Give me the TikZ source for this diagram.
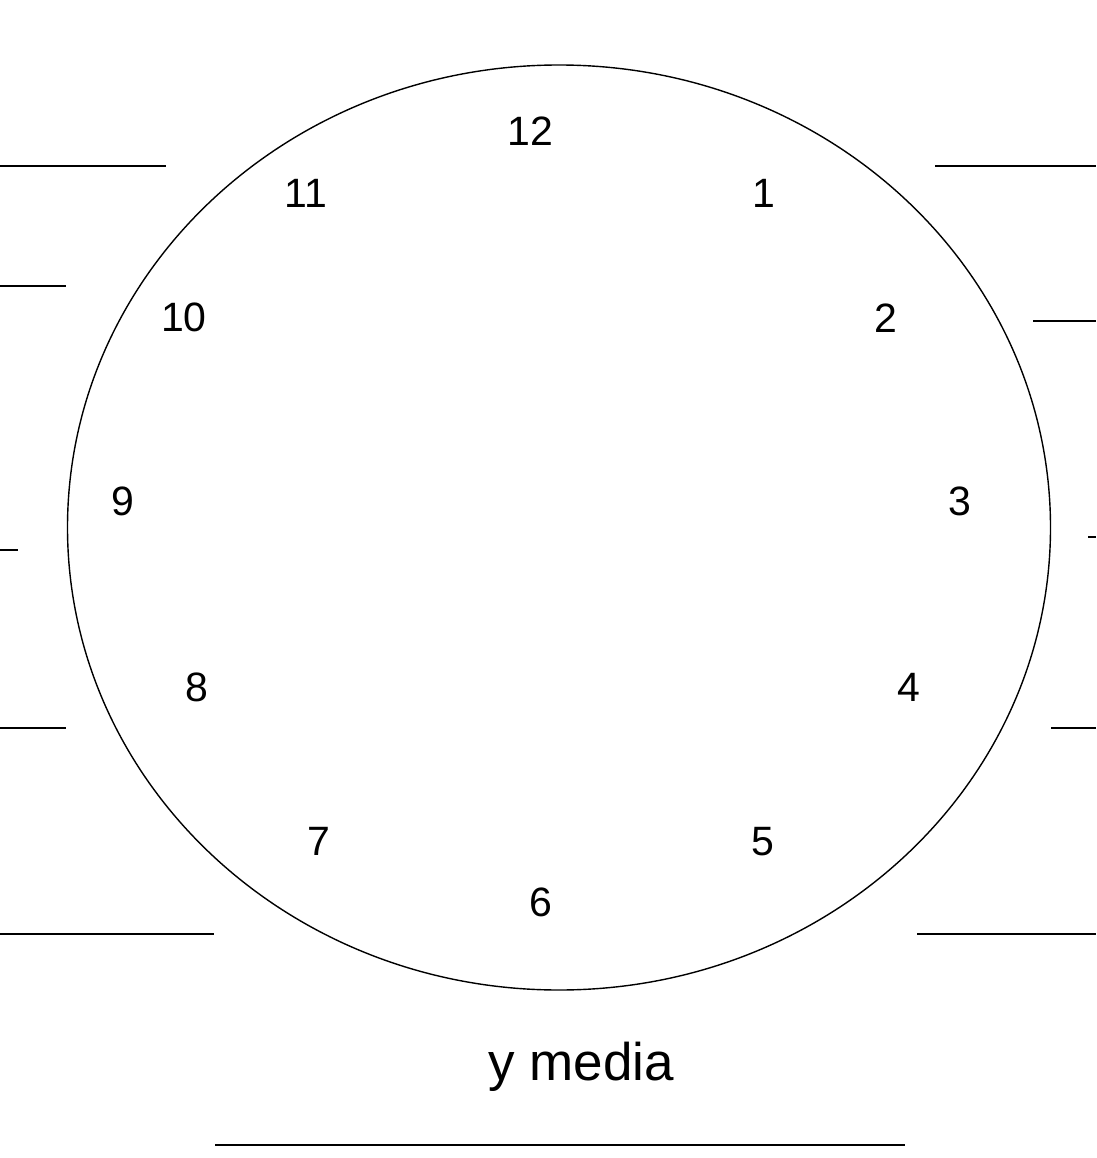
\documentclass[tikz,border=0pt]{standalone}
\usepackage{fontspec}
\setmainfont{Liberation Sans}
\begin{document}
\begin{tikzpicture}[x=1pt,y=-1pt,
  num/.style={inner sep=0pt,anchor=base,font=\fontsize{41}{41}\selectfont},
  lbl/.style={inner sep=0pt,anchor=base,font=\fontsize{53}{53}\selectfont},
  blank/.style={line width=2pt},
  face/.style={line width=1.4pt}]
\useasboundingbox (0,0) rectangle (1096,1158);
\fill[white] (0,0) rectangle (1096,1158);
\draw[face] (559,527.5) ellipse [x radius=491.5, y radius=462.5];
\node[num] (n12) at (530,146) {12};
\node[num] (n1) at (764,208) {1};
\node[num] (n2) at (886,332) {2};
\node[num] (n3) at (960,515) {3};
\node[num] (n4) at (909,701) {4};
\node[num] (n5) at (763,855) {5};
\node[num] (n6) at (541,916) {6};
\node[num] (n7) at (319,855) {7};
\node[num] (n8) at (197,701) {8};
\node[num] (n9) at (123,515) {9};
\node[num] (n10) at (184,331) {10};
\node[num] (n11) at (306,208) {11};
\node[lbl] (ym) at (581,1080) {y media};
% answer lines left
\draw[blank] (0,166) -- (166,166);
\draw[blank] (0,286) -- (66,286);
\draw[blank] (0,550) -- (18,550);
\draw[blank] (0,728) -- (66,728);
\draw[blank] (0,934) -- (214,934);
% answer lines right
\draw[blank] (935,166) -- (1096,166);
\draw[blank] (1033,321) -- (1096,321);
\draw[blank] (1088,537) -- (1096,537);
\draw[blank] (1051,728) -- (1096,728);
\draw[blank] (917,934) -- (1096,934);
% bottom line
\draw[blank] (215,1145) -- (905,1145);
\end{tikzpicture}
\end{document}
